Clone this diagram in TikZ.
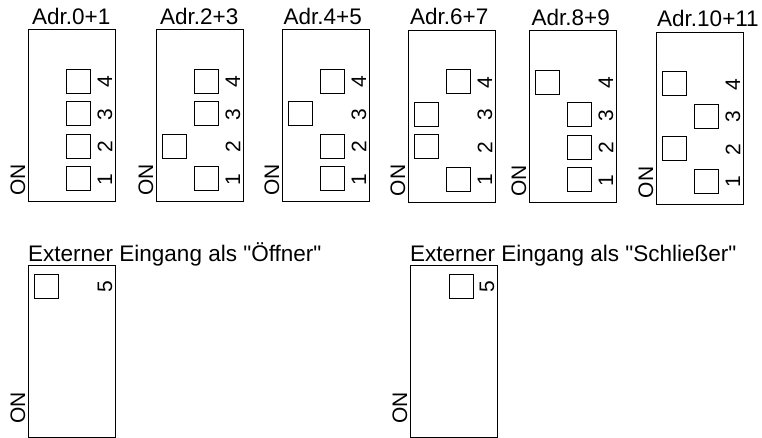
\documentclass[tikz,border=0pt]{standalone}
\usepackage{fontspec}
\setmainfont{Liberation Sans}[Ligatures=TeXOff]
\usetikzlibrary{positioning}

\begin{document}
\begin{tikzpicture}[x=1pt, y=-1pt]
    % Define styles
    \tikzstyle{dipbox} = [rectangle, draw, line width=0.9pt, minimum width=87pt, minimum height=172pt, inner sep=0pt, anchor=north west]
    \tikzstyle{knob} = [rectangle, draw, line width=0.9pt, minimum size=24pt, inner sep=0pt]
    \tikzstyle{digit} = [rotate=90, inner sep=0pt, font=\fontsize{21}{21}\selectfont]
    \tikzstyle{title} = [inner sep=0pt, anchor=base west, font=\fontsize{22.5}{22.5}\selectfont]

    \useasboundingbox (0,0) rectangle (762,437);

    % Address switches: name/label/left/top/title offset/switch 1..4 (18 = left, 50.5 = right)
    \foreach \name/\lbl/\x/\y/\tx/\pa/\pb/\pc/\pd in {
        adr01/{Adr.0+1}/28/29/4/50.5/50.5/50.5/50.5,
        adr23/{Adr.2+3}/156/29/4/50.5/18/50.5/50.5,
        adr45/{Adr.4+5}/282/29/1.5/50.5/50.5/18/50.5,
        adr67/{Adr.6+7}/408/29.5/2/50.5/18/18/50.5,
        adr89/{Adr.8+9}/529/30/2.5/50.5/50.5/50.5/18,
        adr1011/{Adr.10+11}/656/31.5/1/50.5/18/50.5/18} {
        \node [dipbox] (\name) at (\x,\y) {};
        \node [title] (\name-t) at (\x+\tx,\y-5) {\lbl};
        \node [digit, anchor=base west] (\name-on) at (\x-3,\y+167) {ON};
        \foreach \k/\px in {1/\pa, 2/\pb, 3/\pc, 4/\pd} {
            \node [knob] (\name-k\k) at (\x+\px,\y+52+32.5*4-32.5*\k) {};
            \node [digit] (\name-n\k) at (\x+77,\y+53+32.5*4-32.5*\k) {\k};
        }
    }

    % External input
    \node [dipbox] (oeffner) at (28,265) {};
    \node [title] (oeffner-t) at (28,261.5) {Externer Eingang als "Öffner"};
    \node [digit, anchor=base west] (oeffner-on) at (25,424) {ON};
    \node [knob] (oeffner-k5) at (46,286) {};
    \node [digit] (oeffner-n5) at (105,287) {5};

    \node [dipbox] (schliesser) at (410,265) {};
    \node [title] (schliesser-t) at (410,261.5) {Externer Eingang als "Schließer"};
    \node [digit, anchor=base west] (schliesser-on) at (407,424) {ON};
    \node [knob] (schliesser-k5) at (461,286) {};
    \node [digit] (schliesser-n5) at (487,287) {5};
\end{tikzpicture}
\end{document}
